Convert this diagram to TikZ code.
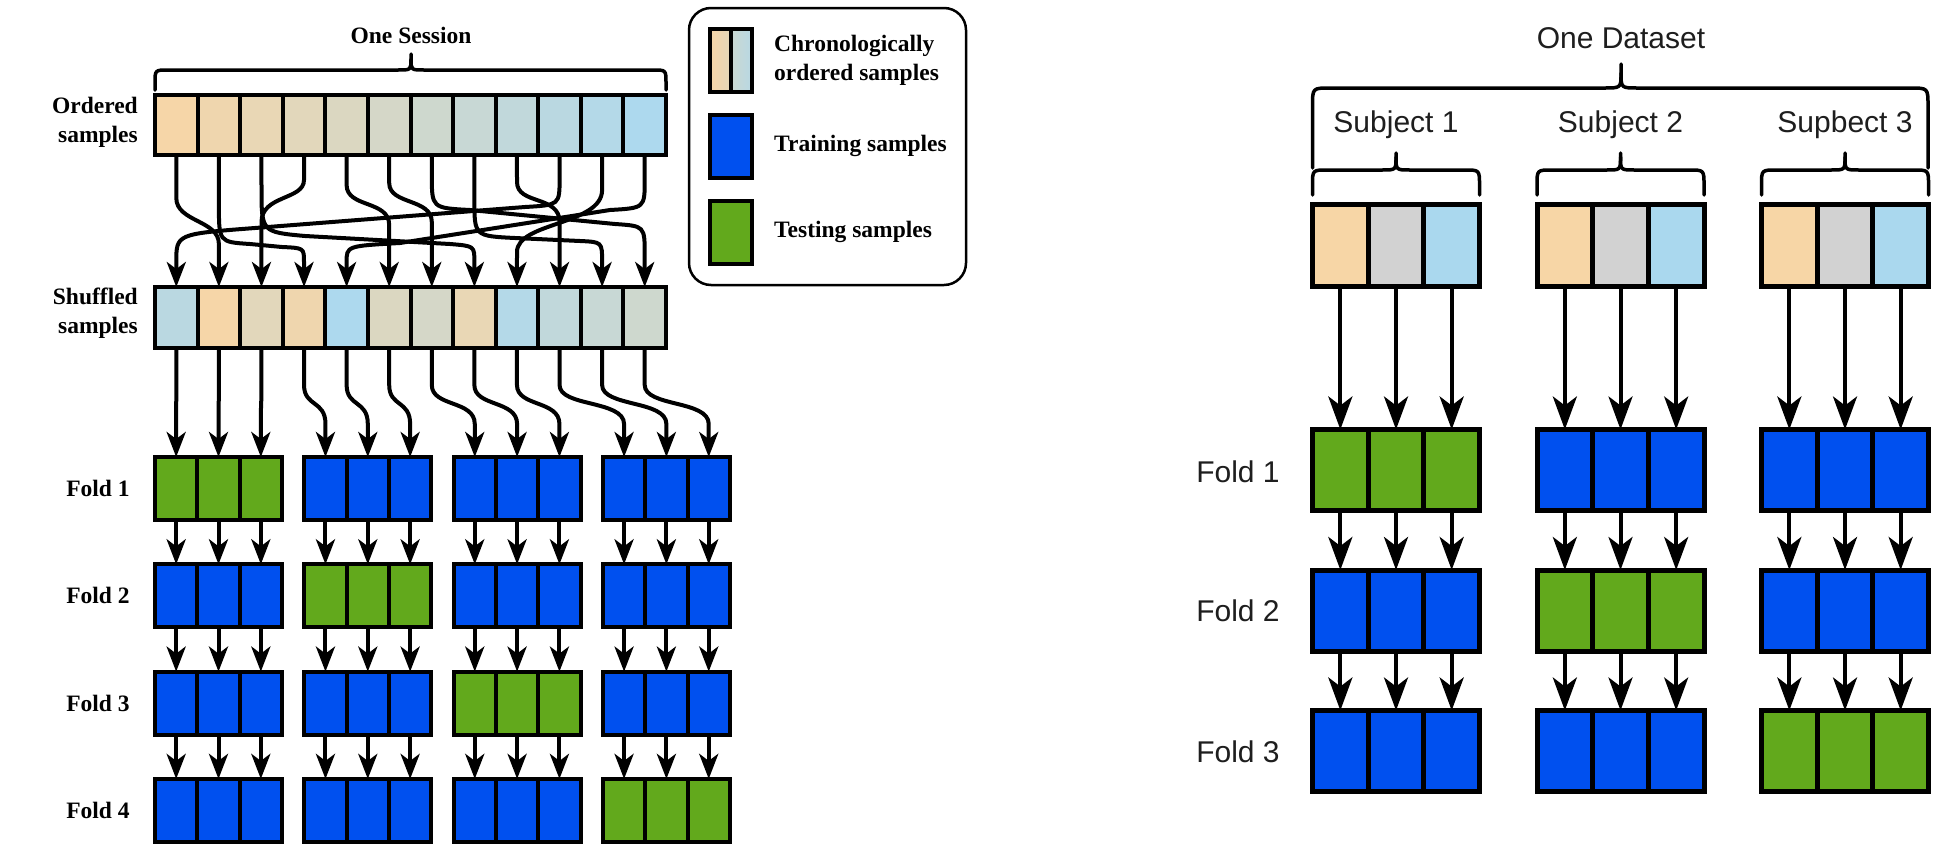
\documentclass[tikz,border=0pt]{standalone}
\usepackage{fontspec}
\setmainfont{Liberation Serif}
\newfontfamily\rsans{Liberation Sans}
\usetikzlibrary{arrows.meta,calc}
\definecolor{peach}{RGB}{246,214,168}
\definecolor{lblue}{RGB}{173,217,238}
\definecolor{rpeach}{RGB}{247,214,166}
\definecolor{rgray}{RGB}{210,210,210}
\definecolor{rblue}{RGB}{170,216,238}
\definecolor{trainblue}{RGB}{0,80,239}
\definecolor{testgreen}{RGB}{98,169,28}
\definecolor{rtext}{RGB}{30,30,30}
\begin{document}
\begin{tikzpicture}[x=1pt,y=-1pt,
  cellO/.style={draw=black,line width=4pt,minimum width=42.583pt,minimum height=60pt,inner sep=0pt,outer sep=0pt},
  cellS/.style={cellO,minimum height=61pt},
  cellF/.style={draw=black,line width=4pt,minimum width=42.333pt,minimum height=63pt,inner sep=0pt,outer sep=0pt},
  cellR/.style={draw=black,line width=5pt,minimum width=55.667pt,minimum height=81pt,inner sep=0pt,outer sep=0pt},
  cellT/.style={cellR,minimum height=82pt},
  swatch/.style={draw=black,line width=4pt,minimum width=42pt,minimum height=63pt,inner sep=0pt,outer sep=0pt},
  halfswatch/.style={swatch,minimum width=21pt},
  arrL/.style={line width=4pt,-{Stealth[length=25pt,width=19pt,inset=7pt]}},
  arrR/.style={line width=4pt,-{Stealth[length=33pt,width=24pt,inset=9pt]}},
  brace/.style={line width=3.5pt,line cap=round,line join=round},
  lab/.style={font=\fontsize{23.5}{29}\selectfont\bfseries,inner sep=0pt},
  rlab/.style={font=\rsans\fontsize{30}{36}\selectfont,text=rtext,inner sep=0pt},
]
\useasboundingbox (0,0) rectangle (1958,846);
\fill[white] (0,0) rectangle (1958,846);

% ---------------- LEFT PANEL ----------------
\node[lab] (sess) at (411,35) {One Session};
\draw[brace] (155,90) -- (155,83) .. controls (155,70) .. (168,70) -- (398,70) .. controls (411,70) .. (411,59) -- (411,54);
\draw[brace] (666,90) -- (666,83) .. controls (666,70) .. (653,70) -- (424,70) .. controls (411,70) .. (411,59);

\node[lab,align=right,anchor=east] (ordl) at (138,122) {Ordered\\samples};
\node[lab,align=right,anchor=east] (shufl) at (138,313) {Shuffled\\samples};

\foreach \i in {1,...,12} {
  \pgfmathsetmacro\cx{155+42.583*(\i-0.5)}
  \pgfmathsetmacro\mix{100-100*(\i-1)/11}
  \node[cellO,fill=peach!\mix!lblue] (o\i) at (\cx,125) {};
}
\foreach \j/\src in {1/10,2/1,3/4,4/2,5/12,6/5,7/6,8/3,9/11,10/9,11/8,12/7} {
  \pgfmathsetmacro\cx{155+42.583*(\j-0.5)}
  \pgfmathsetmacro\mix{100-100*(\src-1)/11}
  \node[cellS,fill=peach!\mix!lblue] (s\j) at (\cx,317.5) {};
}

% shuffle arrows
\draw[arrL] (o1.south) -- (176.3,198) .. controls (176.3,222) and (218.9,220) .. (218.9,244) -- (s2.north);
\draw[arrL] (o2.south) -- (218.9,205) .. controls (218.9,242) .. (250,244) -- (282,247) .. controls (304,248) .. (304,262) -- (s4.north);
\draw[arrL] (o3.south) -- (261.5,188) .. controls (261.5,232) .. (305,236) -- (450,244) .. controls (474.4,246) .. (474.4,262) -- (s8.north);
\draw[arrL] (o4.south) -- (304,180) .. controls (304,200) and (261.5,195) .. (261.5,222) -- (s3.north);
\draw[arrL] (o5.south) -- (346.6,185) .. controls (346.6,208) and (389.2,200) .. (389.2,225) -- (s6.north);
\draw[arrL] (o6.south) -- (389.2,183) .. controls (389.2,205) and (431.8,198) .. (431.8,222) -- (s7.north);
\draw[arrL] (o7.south) -- (431.8,175) .. controls (431.8,208) .. (470,210) -- (615,224) .. controls (644.7,226) .. (644.7,255) -- (s12.north);
\draw[arrL] (o8.south) -- (474.4,200) .. controls (474.4,236) .. (515,238) -- (580,241) .. controls (602.1,242) .. (602.1,262) -- (s11.north);
\draw[arrL] (o9.south) -- (517,182) .. controls (517,205) and (559.6,195) .. (559.6,222) -- (s10.north);
\draw[arrL] (o10.south) -- (559.6,178) .. controls (559.6,205) .. (525,207) -- (255,228) .. controls (176.3,234) .. (176.3,262) -- (s1.north);
\draw[arrL] (o11.south) -- (602.1,190) .. controls (602.1,225) and (517,222) .. (517,252) -- (s9.north);
\draw[arrL] (o12.south) -- (644.7,180) .. controls (644.7,208) .. (610,210) -- (400,243) .. controls (346.6,246) .. (346.6,262) -- (s5.north);

% fold boxes
\foreach \r in {1,...,4} {
  \pgfmathsetmacro\cy{488.5+107.3*(\r-1)}
  \node[lab] (fl\r) at (98,\cy) {Fold \r};
  \foreach \g/\gx in {1/155,2/304.3,3/453.6,4/602.9} {
    \def\fc{trainblue}
    \ifnum\r=\g \def\fc{testgreen}\fi
    \foreach \c in {1,2,3} {
      \pgfmathsetmacro\cx{\gx+42.333*(\c-0.5)}
      \node[cellF,fill=\fc] (L\r-\g-\c) at (\cx,\cy) {};
    }
  }
}

% shuffled -> fold 1
\foreach \i/\g/\c in {1/1/1,2/1/2,3/1/3,4/2/1,5/2/2,6/2/3,7/3/1,8/3/2,9/3/3,10/4/1,11/4/2,12/4/3} {
  \draw[arrL] (s\i.south) -- ++(0,37) .. controls +(0,22) and +(0,-24) .. ($(L1-\g-\c.north)+(0,-33)$) -- (L1-\g-\c.north);
}
% fold -> fold
\foreach \r [evaluate=\r as \rn using int(\r+1)] in {1,2,3} {
  \foreach \g in {1,...,4} {
    \foreach \c in {1,2,3} {
      \draw[arrL] (L\r-\g-\c.south) -- (L\rn-\g-\c.north);
    }
  }
}

% legend
\draw[line width=2.5pt,rounded corners=22pt] (689,8) rectangle (966,285);
\node[halfswatch,left color=peach,right color=peach!75!lblue] (lg1a) at (720.5,60.5) {};
\node[halfswatch,left color=peach!40!lblue,right color=peach!15!lblue] (lg1b) at (741.5,60.5) {};
\node[swatch,fill=trainblue] (lg2) at (731,146.5) {};
\node[swatch,fill=testgreen] (lg3) at (731,232.5) {};
\node[lab,align=left,anchor=west] (lt1) at (774,60) {Chronologically\\ordered samples};
\node[lab,anchor=west] (lt2) at (774,146) {Training samples};
\node[lab,anchor=west] (lt3) at (774,232) {Testing samples};

% ---------------- RIGHT PANEL ----------------
\node[rlab] (dset) at (1621,38) {One Dataset};
\draw[brace] (1312.5,168) -- (1312.5,106) .. controls (1312.5,88) .. (1330,88) -- (1604,88) .. controls (1621,88) .. (1621,73) -- (1621,64);
\draw[brace] (1928,168) -- (1928,106) .. controls (1928,88) .. (1910,88) -- (1638,88) .. controls (1621,88) .. (1621,73);

\foreach \g/\gx/\name in {1/1312.5/Subject 1,2/1537/Subject 2,3/1761.5/Supbect 3} {
  \pgfmathsetmacro\xr{\gx+167}
  \pgfmathsetmacro\xm{\gx+83.5}
  \node[rlab] (subj\g) at (\xm,125) {\name};
  \draw[brace] (\gx,195) -- (\gx,185) .. controls (\gx,170) .. (\gx+15,170) -- (\xm-14,170) .. controls (\xm,170) .. (\xm,157) -- (\xm,153);
  \draw[brace] (\xr,195) -- (\xr,185) .. controls (\xr,170) .. (\xr-15,170) -- (\xm+14,170) .. controls (\xm,170) .. (\xm,157);
  \foreach \c/\col in {1/rpeach,2/rgray,3/rblue} {
    \pgfmathsetmacro\cx{\gx+55.667*(\c-0.5)}
    \node[cellT,fill=\col] (t\g-\c) at (\cx,245.5) {};
  }
}
\foreach \r/\cy/\ly in {1/470/472,2/610.5/611,3/751/752} {
  \node[rlab] (rfl\r) at (1238,\ly) {Fold \r};
  \foreach \g/\gx in {1/1312.5,2/1537,3/1761.5} {
    \def\fc{trainblue}
    \ifnum\r=\g \def\fc{testgreen}\fi
    \foreach \c in {1,2,3} {
      \pgfmathsetmacro\cx{\gx+55.667*(\c-0.5)}
      \node[cellR,fill=\fc] (R\r-\g-\c) at (\cx,\cy) {};
    }
  }
}
\foreach \g in {1,2,3} {
  \foreach \c in {1,2,3} {
    \draw[arrR] (t\g-\c.south) -- (R1-\g-\c.north);
    \draw[arrR] (R1-\g-\c.south) -- (R2-\g-\c.north);
    \draw[arrR] (R2-\g-\c.south) -- (R3-\g-\c.north);
  }
}
\end{tikzpicture}
\end{document}
